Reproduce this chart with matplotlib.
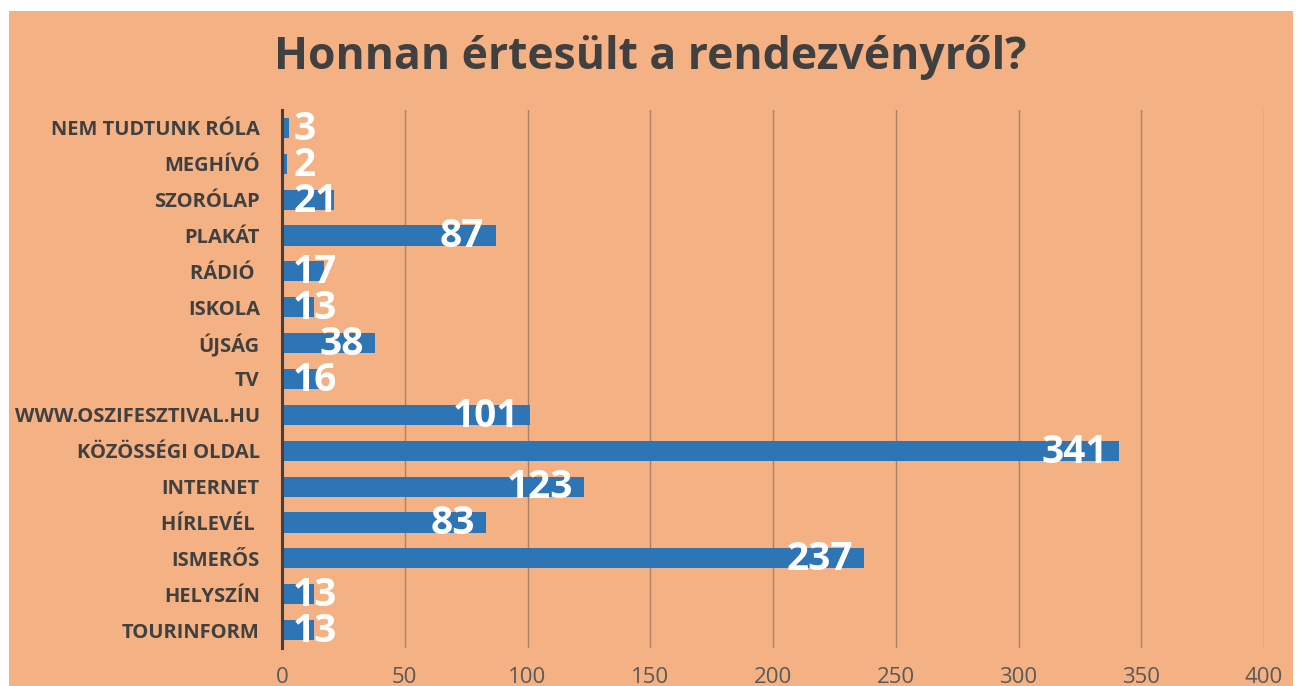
import matplotlib.pyplot as plt
from matplotlib.patches import Rectangle

# data, top to bottom as shown
categories = ["NEM TUDTUNK RÓLA", "MEGHÍVÓ", "SZORÓLAP", "PLAKÁT", "RÁDIÓ ", "ISKOLA",
              "ÚJSÁG", "TV", "WWW.OSZIFESZTIVAL.HU", "KÖZÖSSÉGI OLDAL", "INTERNET",
              "HÍRLEVÉL ", "ISMERŐS", "HELYSZÍN", "TOURINFORM"]
values = [3, 2, 21, 87, 17, 13, 38, 16, 101, 341, 123, 83, 237, 13, 13]
xticks = [0, 50, 100, 150, 200, 250, 300, 350, 400]

bg = "#F4B183"
bar_color = "#2E75B6"
text_dark = "#404040"

fig = plt.figure(figsize=(13.01, 6.86), dpi=100, facecolor="white")
W, H = 1301, 686
fig.patches.append(Rectangle((9 / W, 0), (1293 - 9) / W, (686 - 11) / H,
                             transform=fig.transFigure, facecolor=bg,
                             edgecolor="none", zorder=-10))

ax = fig.add_axes([282 / W, 1 - 648 / H, (1264 - 282) / W, (648 - 110) / H])
ax.set_facecolor("none")

y = list(range(len(categories)))
ax.barh(y, values, height=0.56, color=bar_color, zorder=2)
ax.set_ylim(len(categories) - 0.5, -0.5)
ax.set_xlim(0, 400)

ax.set_yticks(y)
ax.set_yticklabels(categories, fontsize=14.5, fontweight="bold", color=text_dark,
                   family="Open Sans")
ax.set_xticks(xticks)
ax.set_xticklabels([str(t) for t in xticks], fontsize=16, color="#595959",
                   family="Open Sans")
ax.tick_params(axis="both", length=0)
ax.tick_params(axis="y", pad=16)
ax.tick_params(axis="x", pad=14)

ax.grid(axis="x", color="#A98064", linewidth=1.0, zorder=1)
ax.set_axisbelow(True)
for s in ["top", "right", "bottom"]:
    ax.spines[s].set_visible(False)
ax.spines["left"].set_color(text_dark)
ax.spines["left"].set_linewidth(2.2)
ax.spines["left"].set_zorder(3)

# value labels: inside end, pushed out to the axis for short bars
for yi, v in zip(y, values):
    if v < 30:
        ax.annotate(str(v), (0, yi), xytext=(8, -1), textcoords="offset points",
                    ha="left", va="center", fontsize=28, fontweight="bold",
                    color="white", family="Open Sans", zorder=4)
    else:
        ax.annotate(str(v), (v, yi), xytext=(-8, -1), textcoords="offset points",
                    ha="right", va="center", fontsize=28, fontweight="bold",
                    color="white", family="Open Sans", zorder=4)

fig.text(650 / W, 1 - 57 / H, "Honnan értesült a rendezvényről?", ha="center",
         va="center", fontsize=32, fontweight="bold", color=text_dark,
         family="Open Sans")

fig.savefig("out.png", dpi=100, facecolor="white")
